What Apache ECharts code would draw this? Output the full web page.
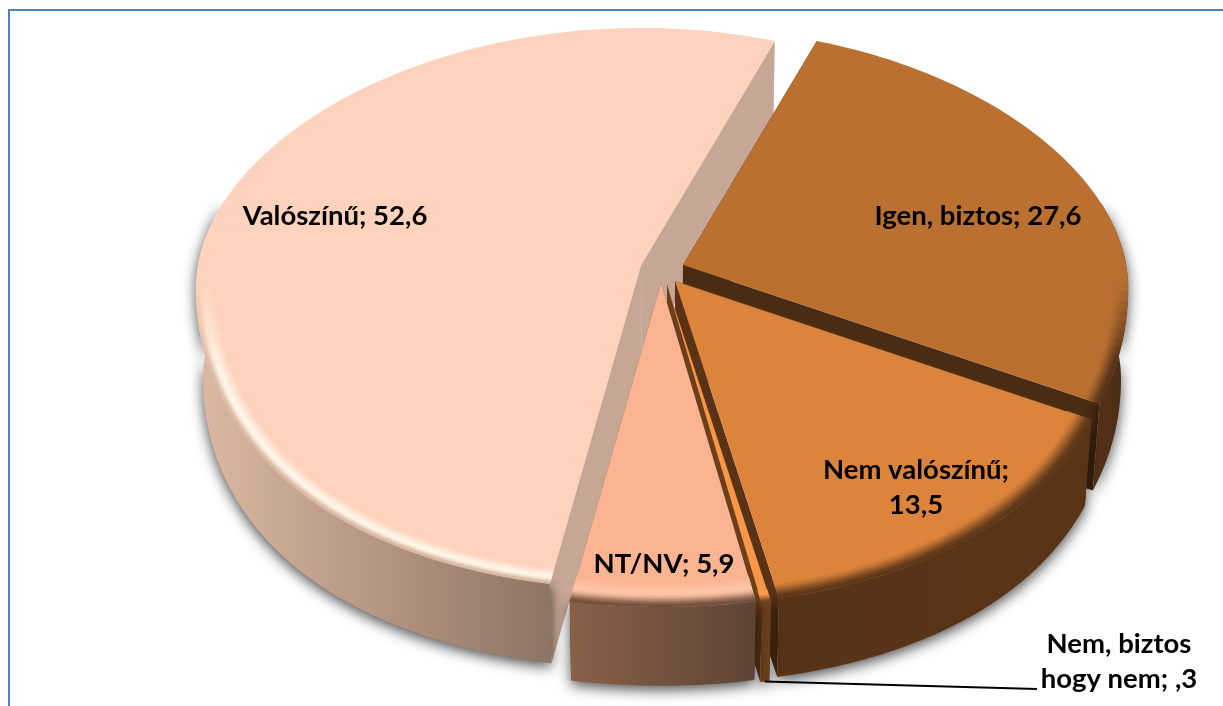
<!DOCTYPE html>
<html><head><meta charset="utf-8">
<script src="https://cdn.jsdelivr.net/npm/echarts@6/dist/echarts.min.js"></script>
<style>html,body{margin:0;padding:0;background:#fff}#c{width:1223px;height:706px}</style>
</head><body><div id="c"></div>
<script>
// ---- data (clockwise, from the first slice) ----
const categories = ['Igen, biztos', 'Nem valószínű', 'Nem, biztos hogy nem', 'NT/NV', 'Valószínű'];
const values = [27.6, 13.5, 0.3, 5.9, 52.6];
const labelLines = [['Igen, biztos; 27,6'], ['Nem valószínű;', '13,5'], ['Nem, biztos', 'hogy nem; ,3'], ['NT/NV; 5,9'], ['Valószínű; 52,6']];

// ---- layout and style ----
const START = 17.5, RX = 445, RY_BACK = 237, RY_FRONT = 324, DEPTH = 92, BASE_SCALE_X = 0.985, BASE_SCALE_Y = 0.96, FRONT_WIDEN = 0.05, EQUATOR_DROP = 22;
const CENTER = [662, 275];
const explodeXY = [[21, -10], [13, 6], [5, 10], [-1, 8], [-21, -10]];
const drawOrder = [4, 0, 1, 2, 3];
const topColors = ['#b97031', '#dc843c', '#f79646', '#fbb491', '#fed2bc'];
const wallColors = ['#4a2c12', '#5a3316', '#6b3f1c', '#6b4a38', '#c6a795'];
const sideStops = [['#55331a', '#4a2c12'], ['#573317', '#5a3417'], ['#6b3f1c', '#6b3f1c'], ['#8a6048', '#5e4436'], ['#dcb9a3', '#8e7464']];
const hiColors = ['#b97031', '#dc843c', '#fb9c4e', '#ffc6a8', '#fff6ea'];
const rimColors = ['#55331a', '#5a3518', '#6b3f1c', '#6f4d3a', '#d9b6a0'];
const hiPos = [0.2, 0.2, 0.3, 0.5, 0.62];
const bevelDepth = [0.05, 0.06, 0.04, 0.08, 0.05];
const labelAnchors = [[978, 216], [916, 488], [1119, 662], [664, 564], [335, 216]];
const leaderEndX = 1037, leaderEndY = 689;
const FONT = 'Lato, "Open Sans"';

const rad = d => d * Math.PI / 180;
const warp = t => t + 3.5 * Math.exp(-Math.pow((t - 195) / 32, 2)) - 5.3 * Math.exp(-Math.pow((t - 117) / 15, 2));
const total = values.reduce((a, b) => a + b, 0);
const smooth = x => x * x * (3 - 2 * x);
function mixHex(a, b, t) {
  const p = h => [1, 3, 5].map(i => parseInt(h.substr(i, 2), 16));
  const A = p(a), B = p(b);
  return '#' + A.map((v, i) => Math.round(v + (B[i] - v) * t).toString(16).padStart(2, '0')).join('');
}
function pt(ax, ay, theta, r) {
  const t = rad(warp(theta)), c = Math.cos(t), s = Math.sin(t);
  const widen = c < 0 ? 1 + FRONT_WIDEN * c * c : 1;
  return [ax + RX * widen * r * s, ay - (c > 0 ? RY_BACK : RY_FRONT) * r * c + EQUATOR_DROP * r * s * s];
}
const base = p => [CENTER[0] + (p[0] - CENTER[0]) * BASE_SCALE_X, CENTER[1] + (p[1] - CENTER[1]) * BASE_SCALE_Y + DEPTH];
function arc(ax, ay, a0, a1, r) {
  const n = Math.max(2, Math.ceil((a1 - a0) / 1) + 1), out = [];
  for (let i = 0; i < n; i++) out.push(pt(ax, ay, a0 + (a1 - a0) * i / (n - 1), r));
  return out;
}
// angular spans from values
const spans = [];
values.reduce((acc, v) => { const e = acc + v / total * 360; spans.push([acc, e]); return e; }, START);

function renderSlice(params) {
  const i = drawOrder[params.dataIndex];
  const [a0, a1] = spans[i];
  const ax = CENTER[0] + explodeXY[i][0], ay = CENTER[1] + explodeXY[i][1];
  const apex = [ax, ay], apexB = base(apex);
  const children = [];
  const s0 = pt(ax, ay, a0, 1), s1 = pt(ax, ay, a1, 1);
  const poly = (points, style) => ({ type: 'polygon', shape: { points }, style, silent: true });
  children.push(poly([apex, s0, base(s0), apexB], { fill: wallColors[i] }));
  children.push(poly([apex, s1, base(s1), apexB], { fill: wallColors[i] }));
  const v0 = Math.max(a0, 70), v1 = Math.min(a1, 290);
  if (v1 > v0) {
    const up = arc(ax, ay, v0, v1, 1), lo = up.map(base).reverse();
    children.push(poly(up.concat(lo), {
      fill: { type: 'linear', x: 0, y: 0, x2: 1, y2: 0, colorStops: [{ offset: 0, color: sideStops[i][0] }, { offset: 1, color: sideStops[i][1] }] },
      shadowBlur: 14, shadowColor: 'rgba(0,0,0,0.7)', shadowOffsetY: 4
    }));
  }
  children.push(poly([apex].concat(arc(ax, ay, a0, a1, 1)), { fill: topColors[i] }));
  const K = 14, step = 2, d = bevelDepth[i];
  const segs = Math.max(1, Math.ceil((a1 - a0) / step));
  for (let s = 0; s < segs; s++) {
    const t0 = a0 + (a1 - a0) * s / segs, t1 = a0 + (a1 - a0) * (s + 1) / segs;
    const mid = rad((t0 + t1) / 2);
    const f = Math.max(0, Math.min(1, (-Math.cos(mid) + 0.02) / 0.3));
    if (f <= 0) continue;
    for (let k = 0; k < K; k++) {
      const u = (k + 0.5) / K, h = hiPos[i];
      const rIn = 1 - d * (1 - k / K), rOut = 1 - d * (1 - (k + 1) / K);
      const col = mixHex(topColors[i],
        u < h ? mixHex(topColors[i], hiColors[i], smooth(u / h))
              : mixHex(hiColors[i], rimColors[i], smooth((u - h) / (1 - h))), f);
      children.push(poly([pt(ax, ay, t0, rIn), pt(ax, ay, t1, rIn), pt(ax, ay, t1, rOut), pt(ax, ay, t0, rOut)],
        { fill: col, stroke: col, lineWidth: 0.7 }));
    }
  }
  return { type: 'group', children };
}

function renderLabels(params) {
  const i = params.dataIndex;
  const children = [];
  const lines = labelLines[i], lh = 35;
  lines.forEach((t, j) => {
    children.push({
      type: 'text', silent: true,
      style: {
        text: t, x: labelAnchors[i][0], y: labelAnchors[i][1] + (j - (lines.length - 1) / 2) * lh,
        align: 'center', verticalAlign: 'middle', fill: '#000',
        font: 'bold 27.5px ' + FONT
      }
    });
  });
  if (values[i] < 1) {
    const [a0, a1] = spans[i];
    const ax = CENTER[0] + explodeXY[i][0], ay = CENTER[1] + explodeXY[i][1];
    const foot = base(pt(ax, ay, (a0 + a1) / 2, 1));
    children.push({
      type: 'polyline', silent: true,
      shape: { points: [foot, [leaderEndX, leaderEndY]] },
      style: { stroke: '#000', lineWidth: 2, fill: 'none' }
    });
  }
  return { type: 'group', children };
}

const chart = echarts.init(document.getElementById('c'), null, { renderer: 'canvas' });
chart.setOption({
  animation: false,
  backgroundColor: '#fff',
  graphic: [{ type: 'polyline', silent: true, z: -1,
    shape: { points: [[9, 706], [9, 10], [1223, 10]] },
    style: { stroke: '#4f81bd', lineWidth: 2, fill: 'none' } }],
  series: [
    { type: 'custom', name: 'slices', coordinateSystem: 'none', silent: true, z: 2,
      data: drawOrder.map(i => ({ name: categories[i], value: values[i] })), renderItem: renderSlice },
    { type: 'custom', name: 'labels', coordinateSystem: 'none', silent: true, z: 3,
      data: categories.map((c, i) => ({ name: c, value: values[i] })), renderItem: renderLabels }
  ]
});
</script></body></html>
